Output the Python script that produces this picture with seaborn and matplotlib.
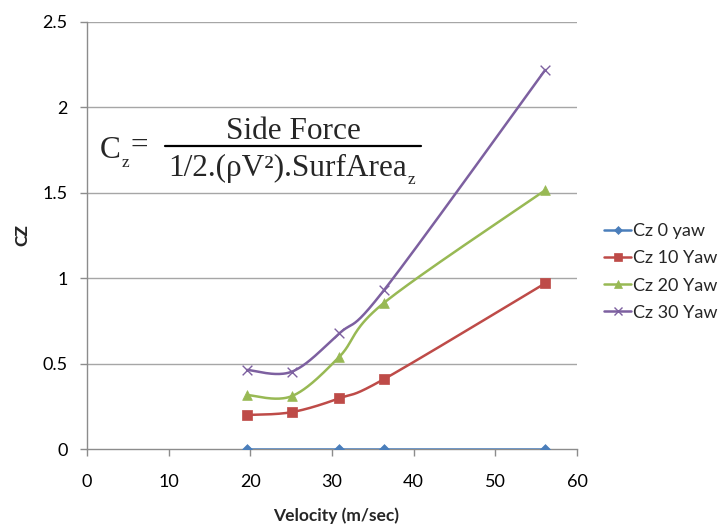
import numpy as np
import pandas as pd
import matplotlib
matplotlib.use("Agg")
import matplotlib.pyplot as plt
from matplotlib.lines import Line2D
import seaborn as sns

# Measured side-force coefficient vs velocity for several yaw angles
velocity = [19.6, 25.1, 30.9, 36.4, 56.1]
velocity_0yaw = [19.6, 30.9, 36.4, 56.1]
cz_0yaw = [0.0, 0.0, 0.0, 0.0]
cz_10yaw = [0.199, 0.216, 0.297, 0.410, 0.970]
cz_20yaw = [0.316, 0.310, 0.540, 0.857, 1.515]
cz_30yaw = [0.463, 0.453, 0.677, 0.932, 2.219]

series_names = ["Cz 0 yaw", "Cz 10 Yaw", "Cz 20 Yaw", "Cz 30 Yaw"]
x_ticks = [0, 10, 20, 30, 40, 50, 60]
y_ticks = [0, 0.5, 1, 1.5, 2, 2.5]
y_tick_labels = ["0", "0.5", "1", "1.5", "2", "2.5"]

colors = ["#4A7EBB", "#BE4B48", "#98B954", "#7D60A0"]
markers = ["D", "s", "^", "x"]
msizes = [5, 7, 7, 7]


def smooth_path(xs, ys, n=40):
    """Catmull-Rom style Bezier smoothing through the given points."""
    pts = np.column_stack([xs, ys]).astype(float)
    out = []
    for i in range(len(pts) - 1):
        p0 = pts[i - 1] if i > 0 else pts[i]
        p1 = pts[i]
        p2 = pts[i + 1]
        p3 = pts[i + 2] if i + 2 < len(pts) else pts[i + 1]
        c1 = p1 + (p2 - p0) / 6.0
        c2 = p2 - (p3 - p1) / 6.0
        t = np.linspace(0, 1, n)[:, None]
        seg = ((1 - t) ** 3) * p1 + 3 * ((1 - t) ** 2) * t * c1 + 3 * (1 - t) * t ** 2 * c2 + t ** 3 * p2
        out.append(seg if i == 0 else seg[1:])
    seg = np.vstack(out)
    return seg[:, 0], seg[:, 1]


sns.set_theme(style="white")
plt.rcParams["font.family"] = ["Lato", "DejaVu Sans"]

W, H = 723, 529
fig = plt.figure(figsize=(W / 100, H / 100), dpi=100)
ax = fig.add_axes([87 / W, 1 - 449 / H, (577 - 87) / W, (449 - 22) / H])

data = [(velocity_0yaw, cz_0yaw), (velocity, cz_10yaw), (velocity, cz_20yaw), (velocity, cz_30yaw)]

for (xs, ys), name, c, m, ms in zip(data, series_names, colors, markers, msizes):
    sx, sy = smooth_path(xs, ys)
    curve = pd.DataFrame({"v": sx, "cz": sy})
    sns.lineplot(data=curve, x="v", y="cz", sort=False, estimator=None, color=c,
                 linewidth=1.8, ax=ax, zorder=3)
    pts = pd.DataFrame({"v": xs, "cz": ys})
    if m == "x":
        sns.scatterplot(data=pts, x="v", y="cz", marker="x", color=c, s=ms ** 2,
                        linewidth=1.0, ax=ax, zorder=4)
    else:
        sns.scatterplot(data=pts, x="v", y="cz", marker=m, color=c, s=ms ** 2,
                        edgecolor=c, linewidth=0.5, ax=ax, zorder=4)

ax.set_xlim(0, 60)
ax.set_ylim(0, 2.5)
ax.set_xticks(x_ticks)
ax.set_yticks(y_ticks)
ax.set_yticklabels(y_tick_labels)
ax.tick_params(axis="both", labelsize=13, colors="#000000", length=5, width=1,
               direction="out", color="#8C8C8C")
ax.tick_params(axis="x", pad=13)
ax.tick_params(axis="y", pad=9)
ax.xaxis.set_ticks_position("bottom")
ax.yaxis.set_ticks_position("left")

for y in y_ticks[1:]:
    ax.axhline(y, color="#A6A6A6", linewidth=1.0, zorder=1)

for side in ["top", "right"]:
    ax.spines[side].set_visible(False)
for side in ["left", "bottom"]:
    ax.spines[side].set_color("#8C8C8C")
    ax.spines[side].set_linewidth(1.0)

ax.set_xlabel("")
ax.set_ylabel("")
fig.text(336 / W, 1 - 516 / H, "Velocity (m/sec)", ha="center", va="center",
         fontsize=12.5, fontweight="bold")
fig.text(22 / W, 1 - 235 / H, "CZ", ha="center", va="center", rotation=90,
         fontsize=12.5, fontweight=900)

# Definition of the coefficient
serif = "Liberation Serif"
big, small = 22.5, 12.5
renderer = fig.canvas.get_renderer()


def right_edge(txt):
    bb = txt.get_window_extent(renderer=renderer)
    return bb.x1


t_c = fig.text(100 / W, 1 - 158 / H, "C", ha="left", va="baseline", family=serif, fontsize=big)
t_cz = fig.text(right_edge(t_c) / W + 0.5 / W, 1 - 167 / H, "z", ha="left", va="baseline",
                family=serif, fontsize=small)
fig.text(right_edge(t_cz) / W + 1 / W, 1 - 154 / H, "=", ha="left", va="baseline",
         family=serif, fontsize=big)
fig.text(293 / W, 1 - 139 / H, "Side Force", ha="center", va="baseline", family=serif,
         fontsize=big)
fig.add_artist(Line2D([165 / W, 421 / W], [1 - 146 / H, 1 - 146 / H], color="black",
                      linewidth=1.6, transform=fig.transFigure))
t_den = fig.text(168 / W, 1 - 176 / H, "1/2.(\u03c1V\u00b2).SurfArea", ha="left",
                 va="baseline", family=serif, fontsize=big)
fig.text(right_edge(t_den) / W + 1 / W, 1 - 184 / H, "z", ha="left", va="baseline",
         family=serif, fontsize=small)

handles = [Line2D([0], [0], color=c, marker=m, markersize=ms * 0.8, linewidth=1.8,
                  markeredgewidth=1.0 if m == "x" else 0.5, markeredgecolor=c)
           for c, m, ms in zip(colors, markers, msizes)]
fig.legend(handles, series_names, loc="center left", bbox_to_anchor=(604 / W, 1 - 272 / H),
           frameon=False, fontsize=13, handlelength=1.5, handletextpad=0.1,
           labelspacing=0.62, borderaxespad=0, borderpad=0)

fig.savefig("out.png", dpi=100)
